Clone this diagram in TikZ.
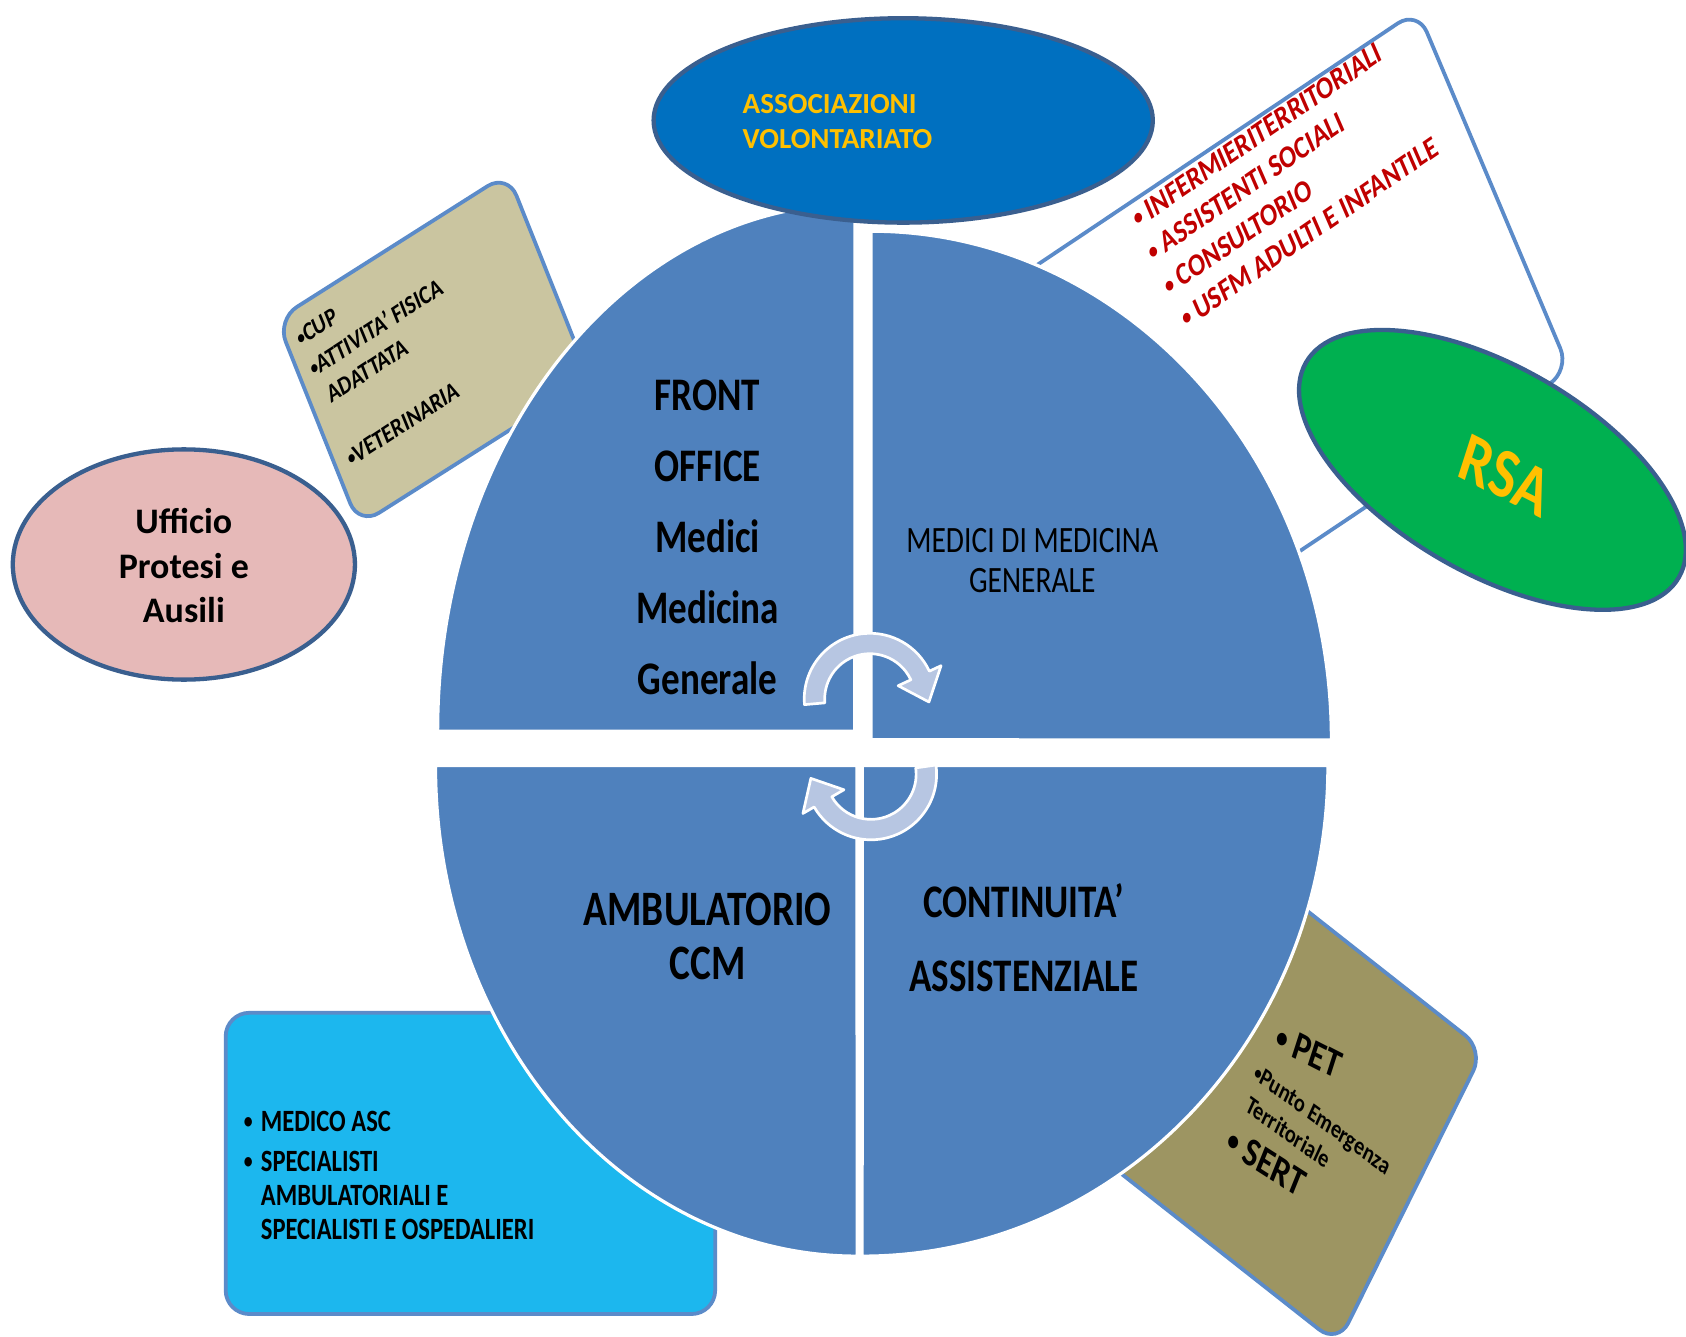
\documentclass[tikz,border=0pt]{standalone}
\usepackage{fontspec}
\usepackage{graphicx}
\setmainfont{Carlito}
\usetikzlibrary{shapes.geometric,calc}
\definecolor{quadblue}{HTML}{4F81BD}
\definecolor{ellline}{HTML}{3A5F8F}
\definecolor{assocblue}{HTML}{0070C0}
\definecolor{gold}{HTML}{FFC000}
\definecolor{rsagreen}{HTML}{00B050}
\definecolor{pinkfill}{HTML}{E6B9B8}
\definecolor{cardline}{HTML}{5B8BC9}
\definecolor{beige}{HTML}{CAC5A0}
\definecolor{olivefill}{HTML}{9D9562}
\definecolor{boxblue}{HTML}{1CB7EE}
\definecolor{redtxt}{HTML}{C00000}
\definecolor{arrowfill}{HTML}{B7C6E2}
\newcommand{\fsz}[2]{\fontsize{#1}{#2}\selectfont}
\newcommand{\sbul}{\raisebox{0.08em}{\scalebox{0.72}{•}}}
\begin{document}
\begin{tikzpicture}[x=0.01cm,y=0.01cm,
  card/.style={rectangle, draw=cardline, line width=0.035cm, rounded corners=0.22cm, inner sep=0pt},
  ell/.style={ellipse, draw=ellline, line width=0.04cm, inner sep=0pt},
  quadfill/.style={fill=quadblue, draw=white, line width=0.03cm},
  arrowshape/.style={fill=arrowfill, draw=white, line width=0.025cm, line join=round},
  vstretch/.style={yscale=1.26},
  lbl/.style={inner sep=0pt, text=black}]
\useasboundingbox (0,0) rectangle (1568,-1243);
\fill[white] (0,0) rectangle (1568,-1243);

% cards behind the circle
\node[card, fill=white, minimum width=4.8cm, minimum height=3.01cm, yscale=1.26, rotate=28] (whitecard) at (1177,-319) {};
\node[card, fill=beige, minimum width=2.4cm, minimum height=1.7cm, yscale=1.26, rotate=26.7] (beigecard) at (403,-325) {};
\node[card, fill=olivefill, minimum width=3.3cm, minimum height=2.56cm, yscale=1.26, rotate=-32] (olivecard) at (1172,-1003) {};
\node[card, fill=boxblue, minimum width=4.55cm, minimum height=2.80cm] (bluebox) at (437.5,-1082) {};

% quadrants
\path[quadfill] (795,-680) -- (407,-680) arc[start angle=180, end angle=90, x radius=3.88cm, y radius=4.90cm] -- cycle;
\path[quadfill] (810,-688) -- (810,-215) arc[start angle=90, end angle=0, x radius=4.28cm, y radius=4.73cm] -- cycle;
\path[quadfill] (797,-712) -- (405,-712) arc[start angle=180, end angle=270, x radius=3.92cm, y radius=4.56cm] -- cycle;
\path[quadfill] (802,-712) -- (1235,-712) arc[start angle=0, end angle=-90, x radius=4.33cm, y radius=4.56cm] -- cycle;

% circular arrows
\coordinate (ca) at (809,-650);
\coordinate (cb) at (810,-720);
\path[arrowshape] ($(ca)+(185:0.61cm)$) arc[start angle=185, end angle=25, radius=0.61cm]
  -- ($(ca)+(25:0.73cm)$) -- ($(ca)+(-3:0.55cm)$) -- ($(ca)+(25:0.29cm)$) -- ($(ca)+(25:0.42cm)$)
  arc[start angle=25, end angle=185, radius=0.42cm] -- cycle;
\path[arrowshape] ($(cb)+(8:0.61cm)$) arc[start angle=8, end angle=-150, radius=0.61cm]
  -- ($(cb)+(-150:0.73cm)$) -- ($(cb)+(184:0.56cm)$) -- ($(cb)+(-150:0.29cm)$) -- ($(cb)+(-150:0.42cm)$)
  arc[start angle=-150, end angle=8, radius=0.42cm] -- cycle;

% ellipses
\node[ell, fill=assocblue, minimum width=4.64cm, minimum height=1.90cm] (assocell) at (840,-112) {};
\node[ell, fill=rsagreen, minimum width=4.0cm, minimum height=1.92cm, rotate=-30] (rsaell) at (1388,-437) {};
\node[ell, fill=pinkfill, minimum width=3.18cm, minimum height=2.14cm] (pinkell) at (171,-525) {};

% texts
\node[lbl, font=\bfseries\fsz{9.8}{14.9}, align=center, vstretch] (front) at (658,-500) {FRONT\\OFFICE\\Medici\\Medicina\\Generale};
\node[lbl, font=\fsz{7.8}{8.35}, align=center, vstretch] (mmg) at (960,-521) {MEDICI DI MEDICINA\\GENERALE};
\node[lbl, font=\bfseries\fsz{10.4}{11.3}, align=center, vstretch] (amb) at (658,-871) {AMBULATORIO\\CCM};
\node[lbl, font=\bfseries\fsz{9.8}{15.4}, align=center, vstretch] (cont) at (952,-872) {CONTINUITA’\\ASSISTENZIALE};
\node[lbl, font=\bfseries\fsz{9.5}{11.7}, align=center] (uff) at (171,-526) {Ufficio\\Protesi e\\Ausili};
\node[lbl, font=\bfseries\fsz{7.7}{9.1}, align=left, text=gold, anchor=west] (assoc) at (690,-113) {ASSOCIAZIONI\\VOLONTARIATO};
\node[lbl, font=\bfseries\fsz{15}{18}, text=gold, yscale=1.26, rotate=-22] (rsa) at (1400,-442) {RSA};

\node[lbl, font=\bfseries\fsz{6.66}{8}, text=redtxt, anchor=west, yscale=1.26, rotate=28.7] (r1) at (1054,-205) {\sbul\ INFERMIERITERRITORIALI};
\node[lbl, font=\bfseries\fsz{6.66}{8}, text=redtxt, anchor=west, yscale=1.26, rotate=28.7] (r2) at (1068,-236) {\sbul\ ASSISTENTI SOCIALI};
\node[lbl, font=\bfseries\fsz{6.66}{8}, text=redtxt, anchor=west, yscale=1.26, rotate=28.7] (r3) at (1083,-268) {\sbul\ CONSULTORIO};
\node[lbl, font=\bfseries\fsz{6.66}{8}, text=redtxt, anchor=west, yscale=1.26, rotate=28.7] (r4) at (1099,-298) {\sbul\ USFM ADULTI E INFANTILE};

\node[lbl, font=\bfseries\fsz{5.5}{6.5}, anchor=west, yscale=1.26, rotate=27.3] (cup) at (276,-316) {\sbul CUP};
\node[lbl, font=\bfseries\fsz{5.5}{6.5}, anchor=west, yscale=1.26, rotate=27.3] (att) at (288,-344) {\sbul ATTIVITA’ FISICA};
\node[lbl, font=\bfseries\fsz{5.5}{6.5}, anchor=west, yscale=1.26, rotate=27.3] (ada) at (305,-369) {ADATTATA};
\node[lbl, font=\bfseries\fsz{5.5}{6.5}, anchor=west, yscale=1.26, rotate=27.3] (vet) at (323,-428) {\sbul VETERINARIA};

\node[lbl, font=\bfseries\fsz{8.6}{10}, anchor=west, yscale=1.26, rotate=-22] (pet) at (1187,-962) {\sbul\ PET};
\node[lbl, font=\bfseries\fsz{5.4}{6.5}, anchor=west, yscale=1.26, rotate=-30] (pun) at (1166,-997) {\sbul Punto Emergenza};
\node[lbl, font=\bfseries\fsz{5.4}{6.5}, anchor=west, yscale=1.26, rotate=-30] (ter) at (1160,-1025) {Territoriale};
\node[lbl, font=\bfseries\fsz{8.6}{10}, anchor=west, yscale=1.26, rotate=-27] (sert) at (1142,-1058) {\sbul\ SERT};

\node[lbl, font=\bfseries\fsz{6.5}{7.1}, anchor=west, vstretch] (bl) at (226,-1096)
  {\begin{tabular}{@{}l@{\hspace{2.2pt}}l@{}}\sbul&MEDICO ASC\\[1.3pt] \sbul&SPECIALISTI\\ &AMBULATORIALI E\\ &SPECIALISTI E OSPEDALIERI\end{tabular}};
\end{tikzpicture}
\end{document}
